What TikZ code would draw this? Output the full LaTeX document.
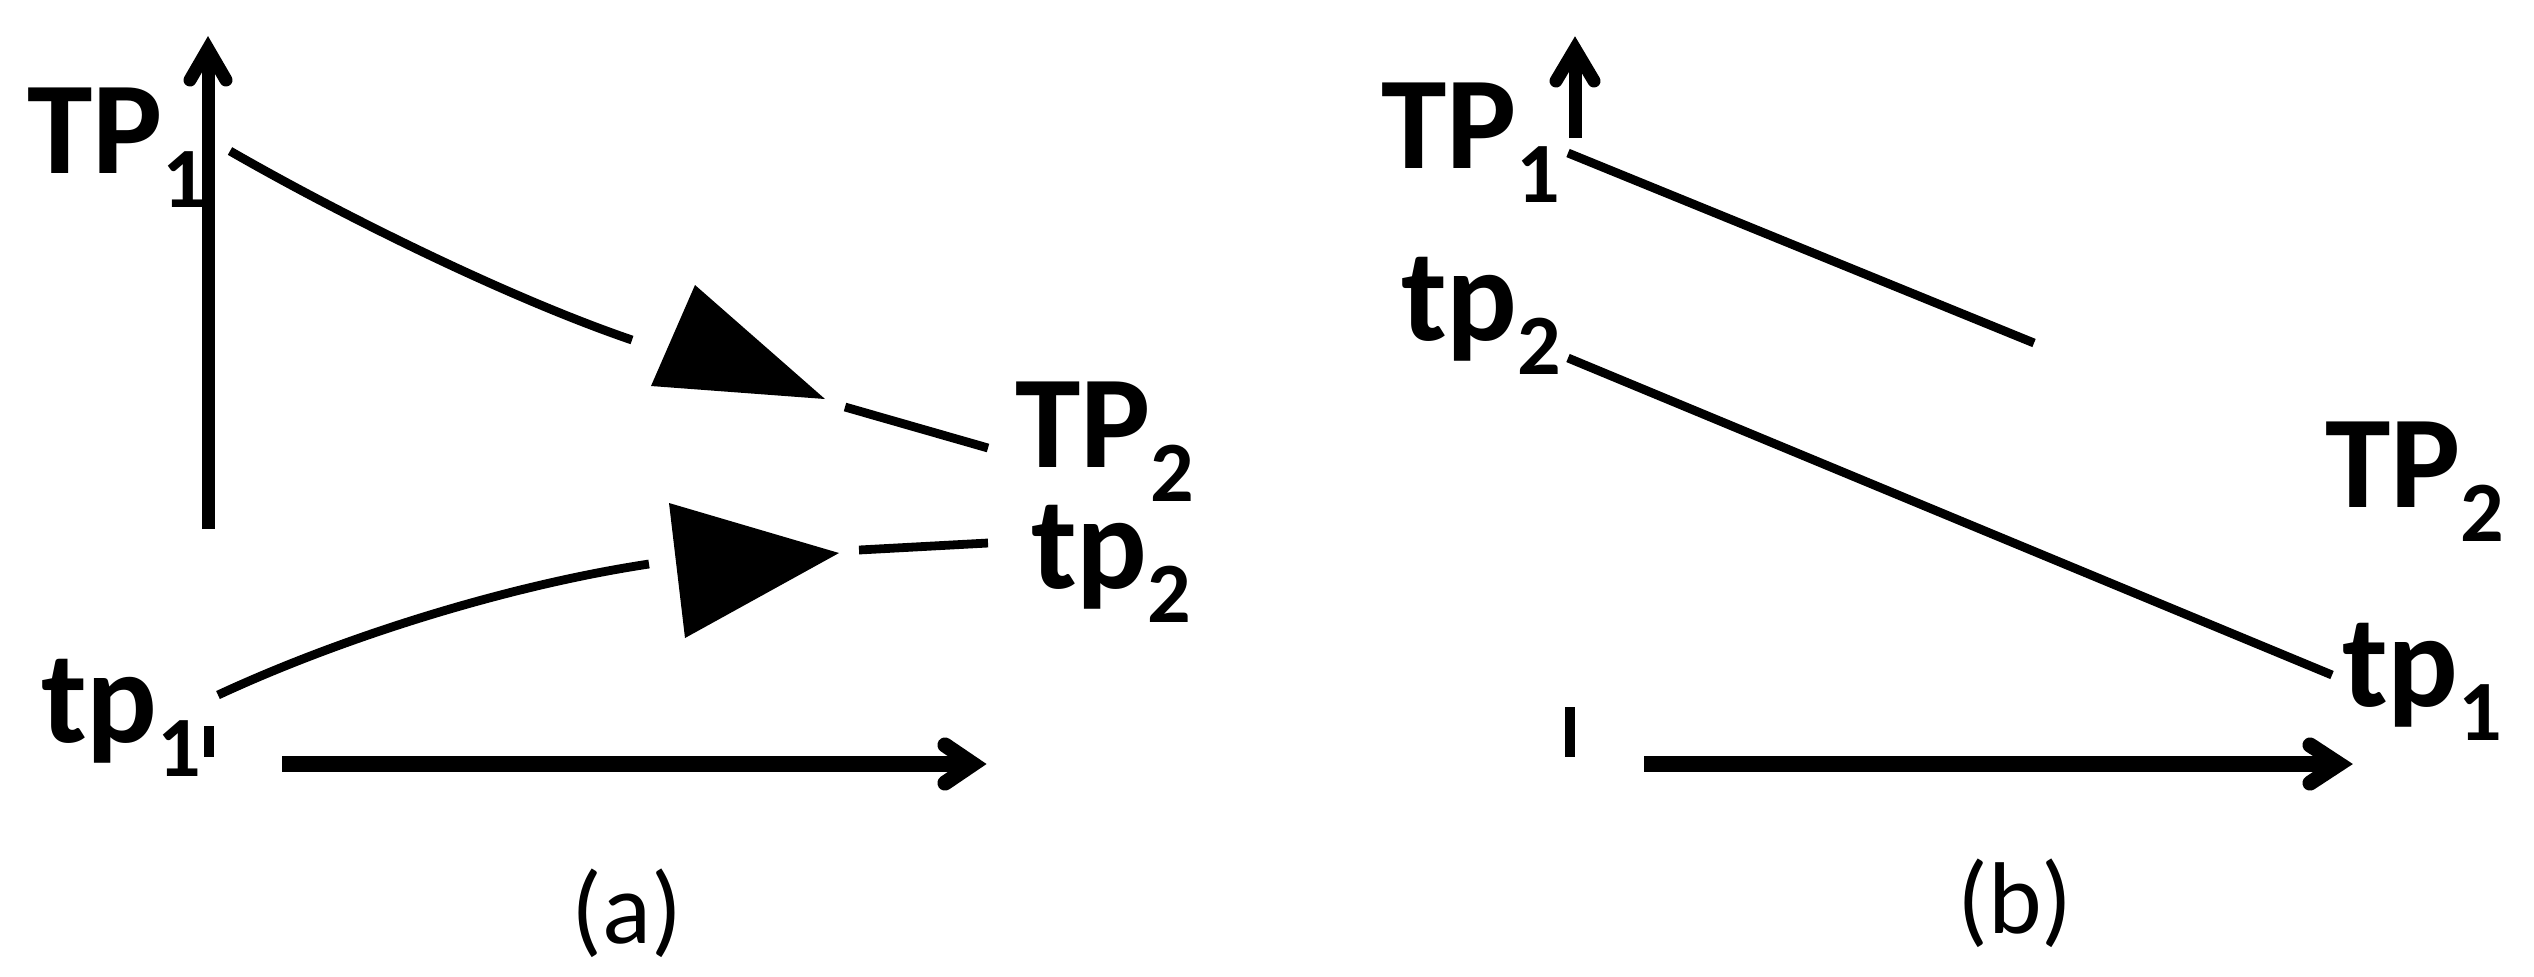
\documentclass[tikz,border=0pt]{standalone}
\usepackage{fontspec}
\setmainfont{Carlito}
\newcommand\tplabel[2]{{\fontsize{33pt}{33pt}\selectfont\bfseries #1}{\fontsize{21.5pt}{21.5pt}\selectfont\bfseries\raisebox{-8.5pt}{#2}}}
\begin{document}
\begin{tikzpicture}[x=0.25pt,y=-0.25pt,
  lbl/.style={inner sep=0pt, outer sep=0pt, anchor=base west},
  captxt/.style={inner sep=0pt, outer sep=0pt, anchor=base, font=\fontsize{25.5pt}{25.5pt}\selectfont},
  haxis/.style={line width=3.8pt},
  vaxis/.style={line width=3.25pt},
  head/.style={line cap=round, line join=miter},
  tickmark/.style={line width=2.5pt},
  curve/.style={line width=2.2pt},
  tri/.style={fill=black}]
\useasboundingbox (0,0) rectangle (2534,976);

% ---------- panel (a) ----------
\node[lbl] (TPa1) at (27,173) {\tplabel{TP}{1}};
\node[lbl] (tpa1) at (41,742) {\tplabel{tp}{1}};
\node[lbl] (TPa2) at (1015,467) {\tplabel{TP}{2}};
\node[lbl] (tpa2) at (1031,588) {\tplabel{tp}{2}};

% axes
\coordinate (va0) at (208,529);
\coordinate (va1) at (208,49);
\draw[vaxis] (va0) -- (va1);
\draw[vaxis,head] (190,80) -- (va1) -- (226,80);
\draw[tickmark] (209,726) -- (209,757);
\coordinate (ha0) at (282,764);
\coordinate (ha1) at (973,764);
\draw[haxis] (ha0) -- (ha1);
\draw[haxis,head] (945,745) -- (ha1) -- (945,783);

% upper curve
\coordinate (u0) at (230,151);
\coordinate (u1) at (632,340);
\coordinate (u2) at (845,407);
\coordinate (u3) at (988,448);
\draw[curve] (u0) .. controls (343,216) and (509,298) .. (u1);
\fill[tri] (695,285) -- (651,386) -- (825,399) -- cycle;
\draw[curve] (u2) -- (u3);

% lower curve
\coordinate (l0) at (218,695);
\coordinate (l1) at (649,564);
\coordinate (l2) at (859,550);
\coordinate (l3) at (988,543);
\draw[curve] (l0) .. controls (345,636) and (510,585) .. (l1);
\fill[tri] (669,503) -- (685,638) -- (839,553) -- cycle;
\draw[curve] (l2) -- (l3);

\node[captxt] (capa) at (627,943) {(a)};

% ---------- panel (b) ----------
\node[lbl] (TPb1) at (1381,168) {\tplabel{TP}{1}};
\node[lbl] (tpb2) at (1401,340) {\tplabel{tp}{2}};
\node[lbl] (TPb2) at (2325,507) {\tplabel{TP}{2}};
\node[lbl] (tpb1) at (2342,706) {\tplabel{tp}{1}};

\coordinate (vb0) at (1575,138);
\coordinate (vb1) at (1575,49);
\draw[vaxis] (vb0) -- (vb1);
\draw[vaxis,head] (1556,81) -- (vb1) -- (1594,81);
\draw[tickmark] (1570,707) -- (1570,757);
\coordinate (hb0) at (1644,764);
\coordinate (hb1) at (2339,764);
\draw[haxis] (hb0) -- (hb1);
\draw[haxis,head] (2310,745) -- (hb1) -- (2310,783);

\coordinate (b10) at (1568,153);
\coordinate (b11) at (2034,343);
\draw[curve] (b10) -- (b11);
\coordinate (b20) at (1568,358);
\coordinate (b21) at (2332,675);
\draw[curve] (b20) -- (b21);

\node[captxt] (capb) at (2015,933) {(b)};
\end{tikzpicture}
\end{document}
